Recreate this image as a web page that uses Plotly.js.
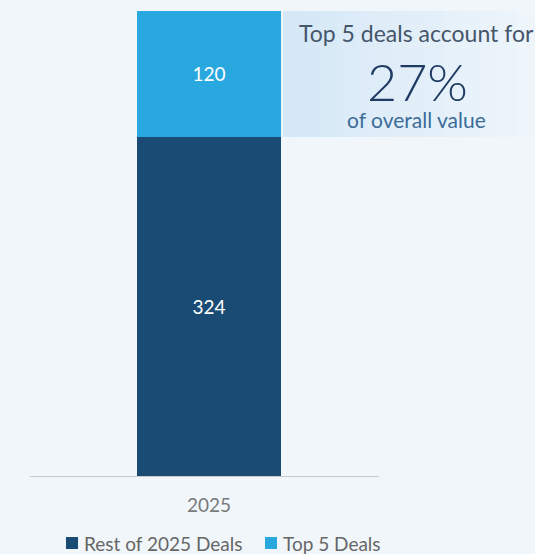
<!DOCTYPE html>
<html><head><meta charset="utf-8">
<script src="https://cdn.plot.ly/plotly-3.0.1.min.js"></script>
<style>html,body{margin:0;padding:0;background:#f1f6fa;}</style>
</head><body><div id="c" style="width:535px;height:554px;"></div>
<script>
const categories = ['2025'];
const restDeals = [324];
const top5Deals = [120];
const seriesNames = ['Rest of 2025 Deals', 'Top 5 Deals'];
const seriesColors = ['#1a4b74', '#29a7df'];
const calloutLines = ['Top 5 deals account for', '27%', 'of overall value'];

const traces = [
  {type:'bar', x:categories, y:restDeals, name:seriesNames[0], marker:{color:seriesColors[0]},
   text:restDeals.map(String), textposition:'inside', insidetextanchor:'middle',
   textfont:{color:'#ffffff', size:19, family:'Lato'}, width:0.41, hoverinfo:'none'},
  {type:'bar', x:categories, y:top5Deals, name:seriesNames[1], marker:{color:seriesColors[1]},
   text:top5Deals.map(String), textposition:'inside', insidetextanchor:'middle',
   textfont:{color:'#ffffff', size:19, family:'Lato'}, width:0.41, hoverinfo:'none'}
];

const PW = 349, PH = 465, L = 30, T = 11;
const px = x => (x - L) / PW;
const py = y => (T + PH - y) / PH;

const shapes = [];
const nStrips = 14;
for (let i = 0; i < nStrips; i++) {
  const t = i / (nStrips - 1);
  const r = Math.round(0xd5 + (0xee - 0xd5) * t);
  const g = Math.round(0xe8 + (0xf5 - 0xe8) * t);
  const b = Math.round(0xf6 + (0xfb - 0xf6) * t);
  shapes.push({type:'rect', xref:'paper', yref:'paper', layer:'below',
    x0: px(283 + i * (252 / nStrips)), x1: px(283 + (i + 1) * (252 / nStrips) + 0.5),
    y0: py(137), y1: 1, line:{width:0}, fillcolor:`rgb(${r},${g},${b})`});
}
// legend squares
const legendItems = [
  {sx:66, tx:82},
  {sx:265, tx:281}
];
const annotations = [
  {xref:'paper', yref:'paper', x:px(416), y:py(33), text:calloutLines[0], showarrow:false,
   font:{size:23, color:'#46566b', family:'Lato'}, xanchor:'center', yanchor:'middle'},
  {xref:'paper', yref:'paper', x:px(417), y:py(81), text:calloutLines[1], showarrow:false,
   font:{size:52, color:'#1f3b63', family:'Lato', weight:300}, xanchor:'center', yanchor:'middle'},
  {xref:'paper', yref:'paper', x:px(416), y:py(119), text:calloutLines[2], showarrow:false,
   font:{size:21, color:'#3c6b98', family:'Lato'}, xanchor:'center', yanchor:'middle'}
];
legendItems.forEach((it, i) => {
  shapes.push({type:'rect', xref:'paper', yref:'paper', x0:px(it.sx), x1:px(it.sx + 12),
    y0:py(549), y1:py(537), fillcolor:seriesColors[i], line:{width:0}});
  annotations.push({xref:'paper', yref:'paper', x:px(it.tx), y:py(543), text:seriesNames[i],
    showarrow:false, xanchor:'left', yanchor:'middle',
    font:{size:19, color:'#666666', family:'Lato'}});
});

const layout = {
  width:535, height:554,
  margin:{l:30, r:156, t:11, b:78, autoexpand:false},
  paper_bgcolor:'#f1f6fa', plot_bgcolor:'rgba(0,0,0,0)',
  barmode:'stack', showlegend:false,
  font:{family:'Lato, "Open Sans", sans-serif', color:'#777777'},
  xaxis:{type:'category', range:[-0.513, 0.487], showgrid:false, zeroline:false,
    showline:true, linecolor:'#c8c8c8', linewidth:1, ticks:'',
    tickfont:{size:19, color:'#7a7a7a', family:'Lato'}, fixedrange:true, ticklabelstandoff:12},
  yaxis:{range:[0, 444], visible:false, fixedrange:true},
  shapes: shapes,
  annotations: annotations
};
Plotly.newPlot('c', traces, layout, {displayModeBar:false, staticPlot:true});
</script></body></html>
